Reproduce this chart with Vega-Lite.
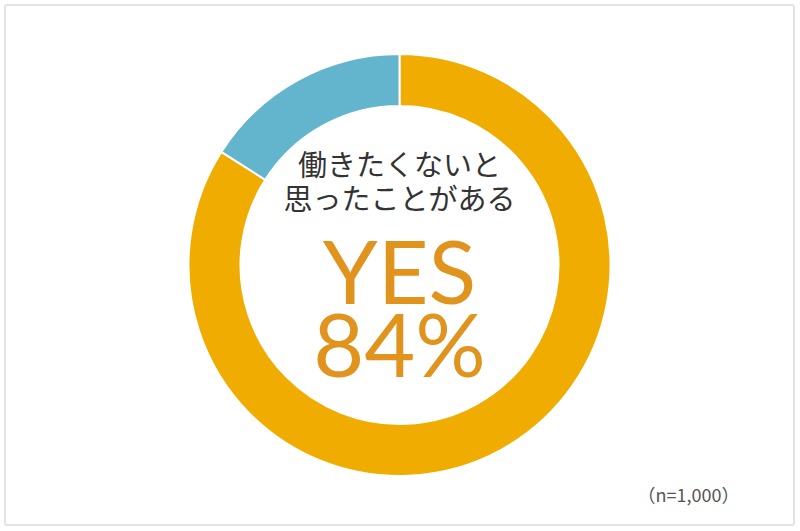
{
  "$schema": "https://vega.github.io/schema/vega-lite/v6.json",
  "width": 800,
  "height": 531,
  "autosize": {"type": "fit", "contains": "padding"},
  "padding": {"left": 4, "top": 4, "right": 5, "bottom": 5},
  "background": "white",
  "data": {
    "values": [
      {"answer": "YES", "value": 84},
      {"answer": "NO", "value": 16}
    ]
  },
  "layer": [
    {
      "data": {"values": [{"frame": 1}]},
      "mark": {"type": "rect", "fill": null, "stroke": "#E3E3E3", "strokeWidth": 2, "cornerRadius": 2}
    },
    {
      "mark": {"type": "arc", "outerRadius": 211, "innerRadius": 159, "stroke": "white", "strokeWidth": 2},
      "encoding": {
        "theta": {"field": "value", "type": "quantitative", "stack": true},
        "order": {"field": "value", "sort": "descending"},
        "color": {
          "field": "answer",
          "type": "nominal",
          "scale": {"domain": ["YES", "NO"], "range": ["#F0AC00", "#62B5CC"]},
          "legend": null
        }
      }
    },
    {
      "data": {"values": [{"label": "働きたくないと"}]},
      "mark": {"type": "text", "font": "Noto Sans CJK JP", "fontSize": 29, "color": "#333333", "baseline": "middle", "align": "center", "dy": -98},
      "encoding": {"text": {"field": "label"}}
    },
    {
      "data": {"values": [{"label": "思ったことがある"}]},
      "mark": {"type": "text", "font": "Noto Sans CJK JP", "fontSize": 29, "color": "#333333", "baseline": "middle", "align": "center", "dy": -64},
      "encoding": {"text": {"field": "label"}}
    },
    {
      "data": {"values": [{"label": "YES"}]},
      "mark": {"type": "text", "font": "Lato", "fontSize": 88, "color": "#E0941E", "baseline": "alphabetic", "align": "center", "dy": 39},
      "encoding": {"text": {"field": "label"}}
    },
    {
      "data": {"values": [{"label": "84%"}]},
      "mark": {"type": "text", "font": "Lato", "fontSize": 88, "color": "#E0941E", "baseline": "alphabetic", "align": "center", "dy": 112},
      "encoding": {"text": {"field": "label"}}
    },
    {
      "data": {"values": [{"label": "（n=1,000）"}]},
      "mark": {"type": "text", "font": "Noto Sans CJK JP", "fontSize": 18, "color": "#555555", "baseline": "middle", "align": "right", "dx": 340, "dy": 232},
      "encoding": {"text": {"field": "label"}}
    }
  ]
}
